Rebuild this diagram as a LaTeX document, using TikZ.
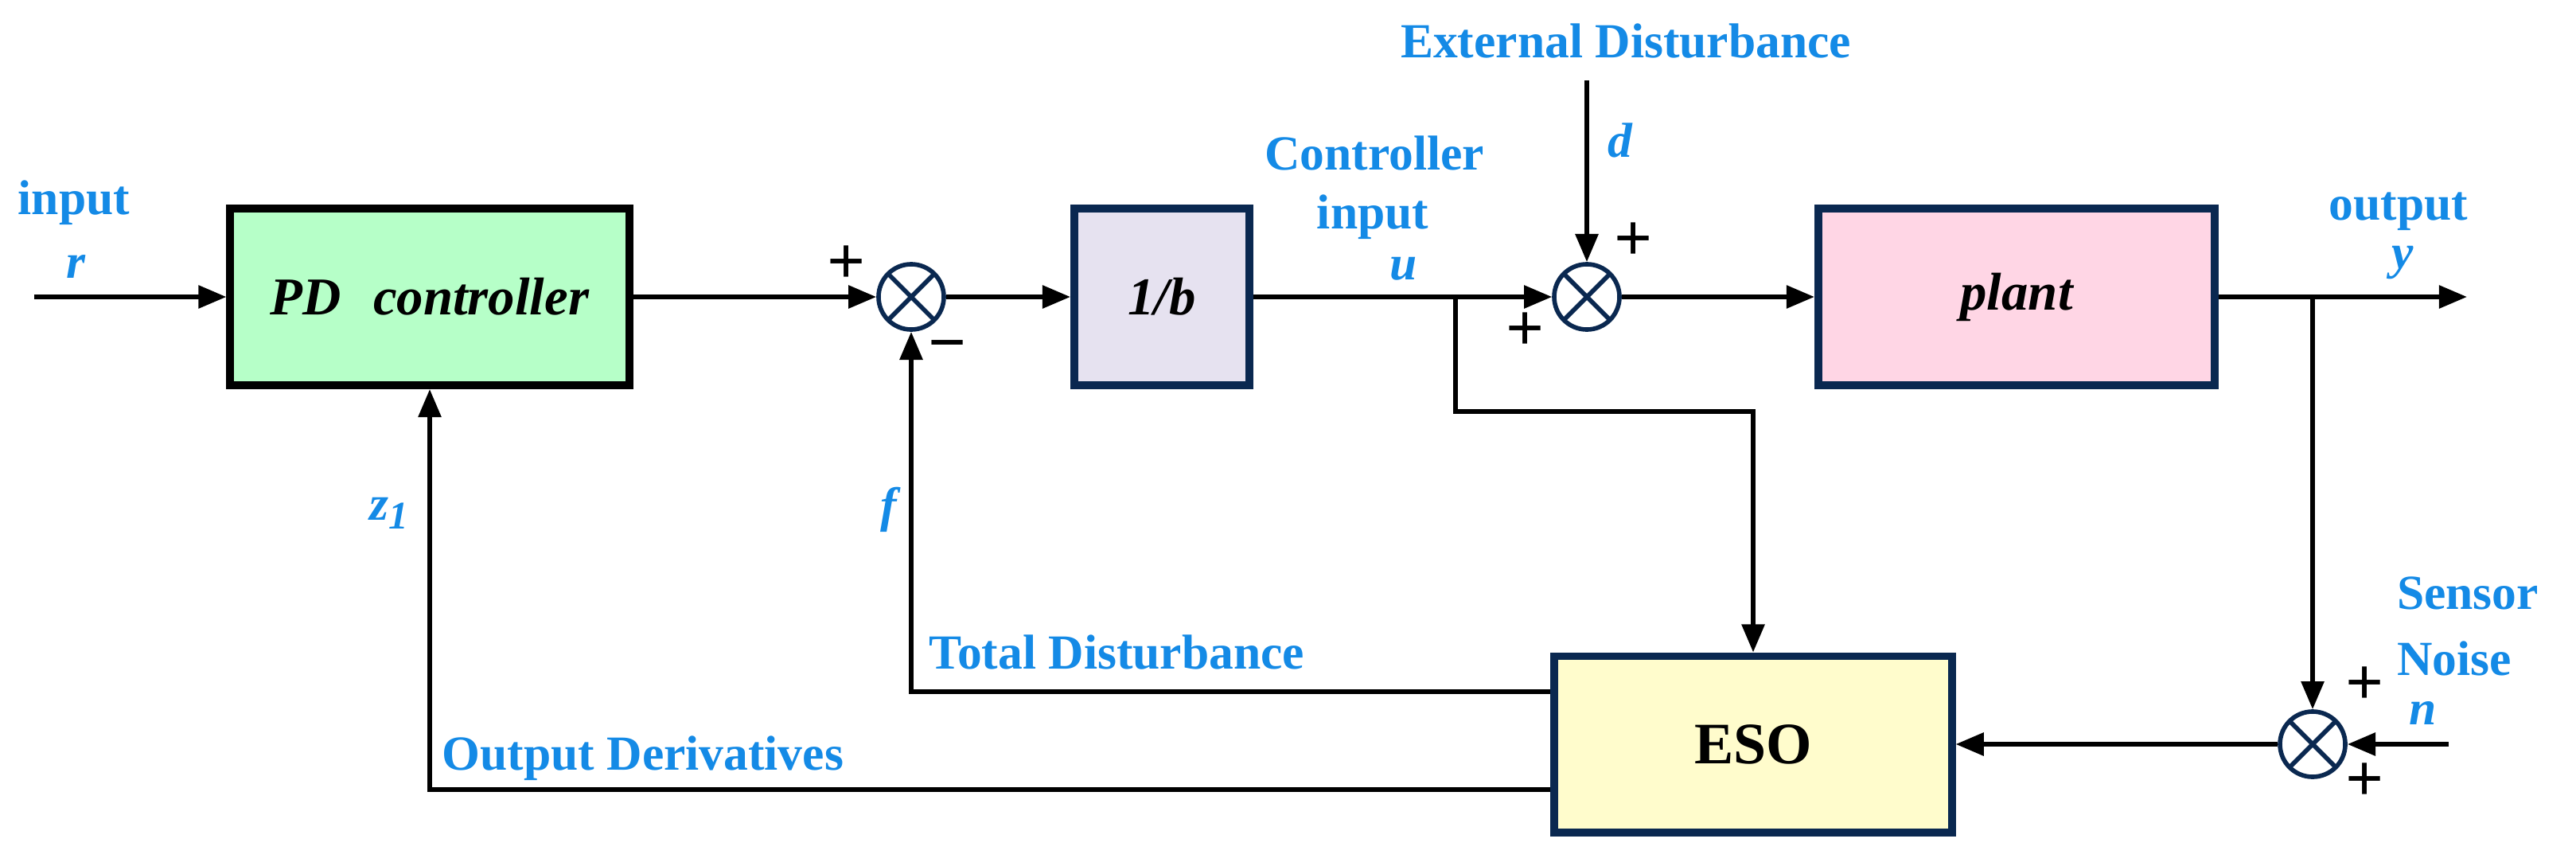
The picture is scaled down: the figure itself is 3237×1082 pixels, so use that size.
\documentclass[tikz,border=0pt]{standalone}
\usepackage{fontspec}
\setmainfont{Liberation Serif}
\usetikzlibrary{arrows.meta}
\definecolor{lblue}{RGB}{20,138,230}
\definecolor{navy}{RGB}{10,40,80}
\begin{document}
\begin{tikzpicture}[x=0.01cm,y=-0.01cm,
  blk/.style={draw=navy,line width=2.8pt,minimum width=#1,minimum height=2.22cm,inner sep=0,font=\fontsize{19}{22}\selectfont\bfseries\itshape},
  sum/.style={circle,draw=navy,line width=1.6pt,minimum size=0.82cm,inner sep=0,path picture={\draw[navy,line width=1.6pt] (path picture bounding box.north west)--(path picture bounding box.south east) (path picture bounding box.north east)--(path picture bounding box.south west);}},
  ln/.style={line width=1.6pt},
  ar/.style={ln,-{Triangle[length=10pt,width=8pt]}},
  lbl/.style={text=lblue,font=\fontsize{17.5}{20}\selectfont\bfseries,inner sep=0},
  sym/.style={text=lblue,font=\fontsize{17.5}{20}\selectfont\bfseries\itshape,inner sep=0},
  pm/.style={font=\fontsize{24}{24}\selectfont\bfseries,inner sep=0}]
\useasboundingbox (0,0) rectangle (3237,1082);
\node[blk=5.01cm,draw=black,fill={rgb,255:red,182;green,255;blue,200}] (pd) at (540,373) {PD\hspace{0.6em}controller};
\node[blk=2.2cm,fill={rgb,255:red,230;green,226;blue,240}] (ib) at (1460,373) {1/b};
\node[blk=4.98cm,fill={rgb,255:red,255;green,214;blue,229}] (pl) at (2534,373) {plant};
\node[blk=4.99cm,minimum height=2.21cm,fill={rgb,255:red,255;green,252;blue,204},font=\fontsize{21}{24}\selectfont\bfseries] (eso) at (2203,935) {ESO};
\node[sum] (s1) at (1145,373) {};
\node[sum] (s2) at (1994,373) {};
\node[sum] (s3) at (2906,935) {};
\coordinate (in) at (43,373);
\coordinate (out) at (3100,373);
\coordinate (dtop) at (1994,101);
\coordinate (nin) at (3077,935);
\coordinate (bu) at (1829,373);
\coordinate (by) at (2906,373);
\draw[ar] (in) -- (pd);
\draw[ar] (pd) -- (s1);
\draw[ar] (s1) -- (ib);
\draw[ar] (ib) -- (s2);
\draw[ar] (dtop) -- (s2);
\draw[ar] (s2) -- (pl);
\draw[ar] (pl) -- (out);
\draw[ar] (bu) |- (2203,517) -- (eso.north);
\draw[ar] (by) -- (s3);
\draw[ar] (nin) -- (s3);
\draw[ar] (s3) -- (eso);
\draw[ar] (eso.west |- 0,869) -| (s1);
\draw[ar] (eso.west |- 0,992) -| (pd);
\node[lbl] (t1) at (93,255) {input};
\node[sym] (t2) at (95,335) {r};
\node[sym] (t3) at (490,645) {z\textsubscript{\fontsize{14}{14}\selectfont 1}};
\node[sym] (t4) at (1117,640) {f};
\node[lbl,anchor=west] (t5) at (1167,820) {Total Disturbance};
\node[lbl,anchor=west] (t6) at (555,953) {Output Derivatives};
\node[lbl] (t7) at (1727,192) {Controller};
\node[lbl] (t8) at (1725,273) {input};
\node[sym] (t9) at (1764,338) {u};
\node[lbl] (t10) at (2043,52) {External Disturbance};
\node[sym] (t11) at (2036,176) {d};
\node[lbl] (t12) at (3014,266) {output};
\node[sym] (t13) at (3019,330) {y};
\node[lbl] (t14) at (3101,745) {Sensor};
\node[lbl] (t15) at (3084,827) {Noise};
\node[sym] (t16) at (3045,896) {n};
\node[pm] (p1) at (1064,333) {+};
\node[pm] (p2) at (1191,443) {\textminus};
\node[pm] (p3) at (2053,304) {+};
\node[pm] (p4) at (1917,417) {+};
\node[pm] (p5) at (2971,862) {+};
\node[pm] (p6) at (2971,983) {+};
\end{tikzpicture}
\end{document}
